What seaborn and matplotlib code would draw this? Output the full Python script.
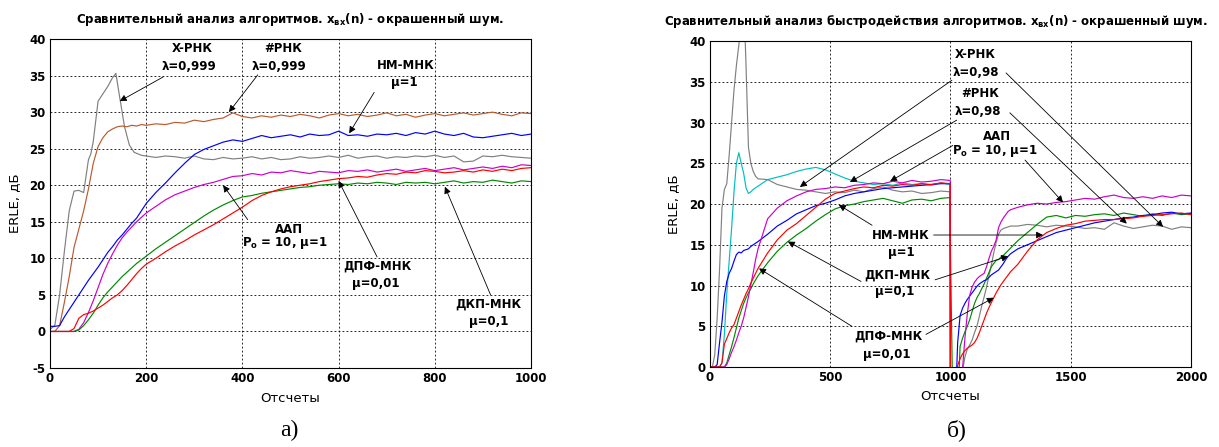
import numpy as np
import pandas as pd
import matplotlib
matplotlib.use("Agg")
import matplotlib.pyplot as plt
import seaborn as sns

# ---------------- data: left panel (а) ----------------
n_left = list(range(0, 201, 10)) + list(range(220, 1001, 20))
n_left_gray = [0, 10, 20, 30, 40, 50, 60, 70, 80, 85, 90, 100, 110, 120, 130, 137, 145, 155, 165, 175, 190, 200] + list(range(220, 1001, 20))

xrls_left = [0.3, 0.8, 5, 11, 16.5, 19.2, 19.3, 19.0, 23.5, 24.3, 26, 31.5, 32.5, 33.5, 34.7, 35.3, 32, 28, 25.5, 24.5, 24.1, 24.0,
             23.8, 24.0, 23.9, 23.7, 24.0, 23.6, 23.5, 23.8, 23.6, 23.7,
             23.9, 23.6, 23.8, 23.5, 23.6, 23.9, 23.7, 23.8, 24.0, 23.8,
             24.1, 23.7, 23.9, 24.0, 23.7, 23.9, 23.8, 24.0, 23.9, 24.1,
             23.8, 24.0, 23.2, 23.3, 24.0, 23.9, 24.1, 23.9, 23.8, 23.7]
frls_left = [0, 0, 0.8, 4, 7.5, 11.5, 14, 16.5, 19.5, 23, 25.3, 26.5, 27.3, 27.7, 28.0, 28.1, 28.0, 28.2, 28.1, 28.3, 28.2,
             28.4, 28.3, 28.6, 28.5, 28.9, 28.7, 29.0, 29.2, 29.9, 29.4,
             29.2, 29.5, 29.3, 29.6, 29.4, 29.7, 29.5, 29.2, 29.6, 29.8,
             29.5, 29.7, 29.4, 29.6, 29.9, 29.5, 29.7, 29.3, 29.6, 29.8,
             29.5, 29.7, 29.9, 29.6, 29.8, 30.0, 29.7, 29.5, 29.9, 29.8]
nlms_left = [0.7, 0.7, 0.8, 2.0, 3.0, 4.0, 5.0, 6.0, 7.0, 7.9, 8.8, 9.8, 10.8, 11.6, 12.5, 13.2, 14.0, 14.8, 15.5, 16.5, 17.5,
             19.0, 20.3, 21.7, 23.0, 24.2, 24.9, 25.4, 25.9, 26.2, 26.0,
             26.4, 26.8, 26.5, 26.7, 26.9, 26.6, 27.0, 26.8, 26.9, 27.4,
             26.8, 26.9, 26.7, 27.0, 26.9, 27.1, 26.8, 27.2, 27.0, 27.4,
             27.0, 26.8, 27.1, 26.6, 26.5, 26.7, 26.9, 27.1, 26.8, 27.0]
aap_left = [0, 0, 0, 0, 0, 0, 0.3, 1.2, 2.6, 4.2, 6.0, 7.8, 9.3, 10.6, 11.8, 12.8, 13.6, 14.3, 15.0, 15.6, 16.2,
            17.1, 18.0, 18.7, 19.2, 19.7, 20.1, 20.4, 20.8, 21.2, 21.3,
            21.6, 21.4, 21.8, 21.7, 22.0, 21.8, 21.6, 21.9, 21.8, 21.7,
            22.0, 21.9, 22.1, 21.8, 22.0, 22.2, 21.9, 22.1, 22.3, 22.0,
            22.2, 22.4, 22.1, 22.3, 22.5, 22.3, 22.6, 22.4, 22.8, 22.7]
dct_left = [0, 0, 0, 0, 0, 0, 0.2, 0.8, 1.6, 2.5, 3.6, 4.6, 5.4, 6.1, 6.8, 7.5, 8.1, 8.7, 9.3, 9.8, 10.3,
            11.3, 12.2, 13.1, 14.0, 14.9, 15.8, 16.6, 17.3, 17.9, 18.4,
            18.6, 18.9, 19.1, 19.3, 19.5, 19.7, 19.8, 20.0, 20.1, 20.2,
            20.1, 20.3, 20.2, 20.4, 20.3, 20.1, 20.4, 20.3, 20.4, 20.2,
            20.4, 20.6, 20.3, 20.5, 20.4, 20.7, 20.5, 20.3, 20.6, 20.5]
dft_left = [0, 0, 0, 0, 0, 0.4, 1.8, 2.3, 2.5, 2.8, 3.2, 3.6, 4.1, 4.6, 5.0, 5.6, 6.3, 7.1, 7.9, 8.6, 9.2,
            10.0, 10.9, 11.7, 12.4, 13.2, 13.9, 14.6, 15.4, 16.2, 17.0,
            17.9, 18.6, 19.1, 19.5, 19.8, 20.0, 20.2, 20.5, 20.7, 20.9,
            21.0, 21.2, 21.1, 21.4, 21.6, 21.5, 21.8, 21.7, 22.0, 21.9,
            21.7, 21.8, 22.0, 21.8, 22.1, 21.9, 22.2, 22.0, 22.3, 22.4]

# ---------------- data: right panel (б) ----------------
n_right = (list(range(0, 201, 10)) + list(range(240, 961, 40)) + [999, 1000]
           + list(range(1010, 1251, 10)) + list(range(1280, 2001, 40)))
n_right_cyan = list(range(0, 201, 10)) + list(range(240, 961, 40)) + [999, 1000]

xrls_right = ([0, 0, 1.5, 6, 12, 19.5, 21.8, 22.5, 26, 30, 34, 37, 39.5, 42, 46, 37, 27, 25, 24, 23.4, 23.1]
              + [23.0, 22.4, 22.1, 21.8, 21.7, 21.5, 21.3, 21.5, 21.4, 21.7, 21.5, 21.9, 22.1, 21.7, 21.5, 21.6, 21.3, 21.4, 21.6]
              + [21.5, -5]
              + [-5, -5, -5, -5, -0.5, 1.2, 2.2, 2.7, 3.3, 4.2, 5.0, 6.2, 7.5, 8.6, 9.8, 11.2, 12.5, 14.0, 15.3, 16.3, 16.8, 17.0, 17.1, 17.2, 17.3]
              + [17.3, 17.5, 17.4, 17.2, 17.4, 17.3, 17.2, 17.0, 17.1, 16.9, 17.7, 17.3, 17.0, 17.2, 17.4, 17.3, 16.9, 17.2, 17.1])
frls_right = ([0, 0, 0, 0, 0, 0.5, 4, 9, 13, 17, 21.5, 25, 26.3, 25, 23.8, 22, 21.3, 21.5, 21.8, 22, 22.2]
              + [23.0, 23.3, 23.6, 24.0, 24.3, 24.5, 24.2, 23.7, 23.2, 22.8, 22.6, 22.4, 22.5, 22.3, 22.6, 22.4, 22.5, 22.3, 22.6]
              + [22.4, -5])
nlms_right = ([0, 0, 0, 0.3, 3, 5.5, 8.7, 10.5, 11.5, 12.1, 13, 13.8, 14.1, 14.0, 14.3, 14.4, 14.5, 14.8, 15.0, 15.2, 15.4]
              + [16.3, 17.3, 18.0, 18.8, 19.3, 19.8, 20.1, 20.5, 21.0, 21.3, 21.5, 21.7, 21.9, 22.0, 22.1, 22.2, 22.3, 22.4, 22.5]
              + [22.5, -5]
              + [-5, -5, 3, 6.3, 7.2, 7.8, 8.3, 8.7, 9.1, 9.5, 9.9, 10.2, 10.4, 10.6, 10.7, 11.0, 11.3, 11.5, 11.7, 11.9, 12.3, 12.7, 13.2, 13.6, 13.9]
              + [14.5, 15.0, 15.5, 16.0, 16.5, 16.8, 17.1, 17.4, 17.7, 17.9, 18.1, 18.3, 18.4, 18.6, 18.7, 18.9, 19.0, 18.8, 18.9])
aap_right = ([0, 0, 0, 0, 0, 0, 0, 0.3, 1.0, 1.8, 2.5, 3.3, 4.2, 5.0, 6.0, 7.3, 8.6, 10.1, 11.6, 13.2, 14.5]
             + [18.2, 19.5, 20.4, 21.0, 21.5, 21.8, 21.9, 22.1, 22.0, 22.3, 22.4, 22.6, 22.5, 22.8, 22.6, 22.9, 22.7, 22.8, 23.0]
             + [22.9, -5]
             + [-5, -5, -5, -5, -0.3, 3.5, 6.5, 8.8, 9.8, 10.4, 10.8, 11.1, 11.3, 11.5, 12.3, 13.3, 14.2, 14.8, 15.6, 17.1, 17.8, 18.3, 18.7, 19.1, 19.3]
             + [19.6, 19.9, 20.1, 20.0, 20.2, 20.3, 20.5, 20.7, 20.6, 20.9, 21.1, 20.8, 20.7, 20.9, 20.7, 21.0, 20.8, 21.1, 21.0])
dct_right = ([0, 0, 0, 0, 0, 0, 0, 0.5, 1.5, 2.5, 3.6, 4.8, 6.0, 6.9, 7.8, 8.5, 9.1, 9.6, 10.2, 10.7, 11.2]
             + [12.8, 14.2, 15.3, 16.2, 17.0, 17.9, 18.7, 19.4, 19.8, 20.0, 20.3, 20.5, 20.7, 20.4, 20.1, 20.5, 20.6, 20.4, 20.7]
             + [20.8, 14]
             + [-5, -5, -5, 2.5, 3.5, 4.3, 5.0, 5.8, 6.8, 7.8, 8.5, 9.0, 9.6, 10.2, 10.9, 11.6, 12.3, 12.7, 13.1, 13.2, 13.5, 13.7, 14.0, 14.3, 14.6]
             + [15.5, 16.5, 17.5, 18.4, 18.6, 18.3, 18.6, 18.5, 18.7, 18.8, 18.6, 18.9, 18.7, 18.5, 18.8, 18.6, 18.9, 18.7, 18.8])
dft_right = ([0, 0, 0, 0, 0, 0.5, 2.8, 3.5, 4.2, 4.8, 5.2, 6.0, 6.8, 7.6, 8.3, 9.0, 9.6, 10.3, 10.9, 11.5, 12.1]
             + [14.0, 15.6, 16.8, 17.6, 18.6, 19.6, 20.6, 21.3, 21.6, 21.9, 22.1, 22.0, 22.3, 22.2, 22.4, 22.3, 22.5, 22.4, 22.6]
             + [22.5, -5]
             + [-5, -5, 0.2, 1.0, 1.6, 2.0, 2.3, 2.5, 2.7, 3.0, 3.5, 4.2, 5.0, 5.8, 6.6, 7.3, 7.9, 8.5, 9.1, 9.6, 10.1, 10.5, 10.9, 11.3, 11.7]
             + [12.6, 14.2, 15.6, 16.5, 17.0, 17.4, 17.6, 17.9, 18.0, 18.1, 18.1, 18.2, 18.3, 18.5, 18.6, 18.7, 18.8, 18.9, 18.7])

# ---------------- style ----------------
sns.set_style("white")
plt.rcParams['font.family'] = ['DejaVu Sans']
plt.rcParams['mathtext.fontset'] = 'dejavusans'
plt.rcParams['axes.unicode_minus'] = False
for k in ('text.color', 'axes.labelcolor', 'xtick.color', 'ytick.color'):
    plt.rcParams[k] = 'black'

FS = 8.5
LFS = 9.5
C_GRAY, C_BROWN, C_BLUE, C_MAG, C_GREEN, C_RED, C_CYAN = (
    '#808080', '#bb5a2c', '#0000ff', '#cc00cc', '#008a00', '#ff0000', '#00bfbf')

fig = plt.figure(figsize=(12.19, 4.47), dpi=100)
axL = fig.add_axes([0.041, 0.1767, 0.3946, 0.736])
axR = fig.add_axes([0.5824, 0.179, 0.3946, 0.729])


def draw(ax, x, y, color):
    df = pd.DataFrame({'n': x, 'v': y})
    sns.lineplot(data=df, x='n', y='v', ax=ax, color=color, linewidth=0.85,
                 estimator=None, sort=False)


for x, y, c in [(n_left_gray, xrls_left, C_GRAY), (n_left, frls_left, C_BROWN),
                (n_left, nlms_left, C_BLUE), (n_left, aap_left, C_MAG),
                (n_left, dct_left, C_GREEN), (n_left, dft_left, C_RED)]:
    draw(axL, x, y, c)

for x, y, c in [(n_right_cyan, frls_right, C_CYAN), (n_right, xrls_right, C_GRAY),
                (n_right, dct_right, C_GREEN), (n_right, nlms_right, C_BLUE),
                (n_right, aap_right, C_MAG), (n_right, dft_right, C_RED)]:
    draw(axR, x, y, c)


def style(ax, xlim, ylim, xticks, yticks, title, title_x, title_ha, ylab_x):
    ax.set_xlim(*xlim)
    ax.set_ylim(*ylim)
    ax.set_xticks(xticks)
    ax.set_yticks(yticks)
    ax.grid(True, color='black', linestyle=(0, (2.2, 2.6)), linewidth=0.6)
    for s in ax.spines.values():
        s.set_color('black')
        s.set_linewidth(0.8)
    ax.tick_params(direction='in', length=3, width=0.6, labelsize=FS, pad=3)
    for lab in ax.get_xticklabels() + ax.get_yticklabels():
        lab.set_fontweight('bold')
    ax.text(title_x, 1.05, title, transform=ax.transAxes, ha=title_ha, va='baseline',
            fontsize=FS, fontweight='bold')
    ax.set_xlabel('Отсчеты', fontsize=LFS)
    ax.set_ylabel('ERLE, дБ', fontsize=LFS)
    ax.xaxis.set_label_coords(0.5, -0.072)
    ax.yaxis.set_label_coords(ylab_x, 0.5)


style(axL, (0, 1000), (-5, 40), range(0, 1001, 200), range(-5, 41, 5),
      'Сравнительный анализ алгоритмов. x$_{\\mathbf{вх}}$(n) - окрашенный шум.',
      0.5, 'center', -0.06)
style(axR, (0, 2000), (0, 40), range(0, 2001, 500), range(0, 41, 5),
      'Сравнительный анализ быстродействия алгоритмов. x$_{\\mathbf{вх}}$(n) - окрашенный шум.',
      -0.095, 'left', -0.062)

ARROW = dict(arrowstyle='-|>', color='black', lw=0.6, mutation_scale=10,
             shrinkA=0, shrinkB=0)


def label(ax, x, y, s):
    ax.text(x, y, s, ha='center', va='center', fontsize=FS, fontweight='bold')


def arrow(ax, tail, tip):
    ax.annotate('', xy=tip, xytext=tail, arrowprops=ARROW)


# left annotations
for x, y, s in [(295, 38.7, 'X-РНК'), (290, 36.3, 'λ=0,999'),
                (484, 38.7, '#РНК'), (477, 36.3, 'λ=0,999'),
                (740, 36.4, 'НМ-МНК'), (737, 34.0, 'μ=1'),
                (496, 14.0, 'ААП'), (489, 12.1, 'P$_{\\mathbf{o}}$ = 10, μ=1'),
                (680, 9.0, 'ДПФ-МНК'), (677, 6.5, 'μ=0,01'),
                (912, 3.8, 'ДКП-МНК'), (912, 1.4, 'μ=0,1')]:
    label(axL, x, y, s)
for tail, tip in [((235, 34.8), (145, 31.5)), ((432, 35.1), (372, 30.0)),
                  ((674, 32.7), (622, 27.1)), ((411, 15.3), (360, 20.0)),
                  ((680, 10.2), (600, 20.6)), ((916, 5.0), (821, 19.8))]:
    arrow(axL, tail, tip)

# right annotations
for x, y, s in [(1102, 38.4, 'X-РНК'), (1106, 36.2, 'λ=0,98'),
                (1123, 33.6, '#РНК'), (1115, 31.4, 'λ=0,98'),
                (1193, 28.3, 'ААП'), (1185, 26.5, 'P$_{\\mathbf{o}}$ = 10, μ=1'),
                (794, 16.2, 'НМ-МНК'), (794, 14.0, 'μ=1'),
                (778, 11.3, 'ДКП-МНК'), (770, 9.3, 'μ=0,1'),
                (741, 3.8, 'ДПФ-МНК'), (737, 1.5, 'μ=0,01')]:
    label(axR, x, y, s)
for tail, tip in [((1006, 35.2), (374, 22.1)), ((1231, 36.1), (1884, 17.2)),
                  ((1026, 30.3), (582, 22.7)), ((1247, 31.2), (1733, 17.6)),
                  ((1010, 27.2), (749, 22.8)), ((1310, 25.4), (1468, 20.2)),
                  ((674, 17.4), (536, 19.9)), ((930, 16.2), (1385, 16.2)),
                  ((628, 10.5), (324, 15.4)), ((936, 10.7), (1240, 13.6)),
                  ((590, 5.0), (204, 12.1)), ((898, 4.0), (1180, 8.5))]:
    arrow(axR, tail, tip)

fig.text(289 / 1219, 1 - 430 / 447, 'а)', ha='center', va='center',
         fontsize=17, family='Liberation Serif')
fig.text(957 / 1219, 1 - 430 / 447, 'б)', ha='center', va='center',
         fontsize=17, family='Liberation Serif')

fig.savefig('out.png', dpi=100, facecolor='white')
